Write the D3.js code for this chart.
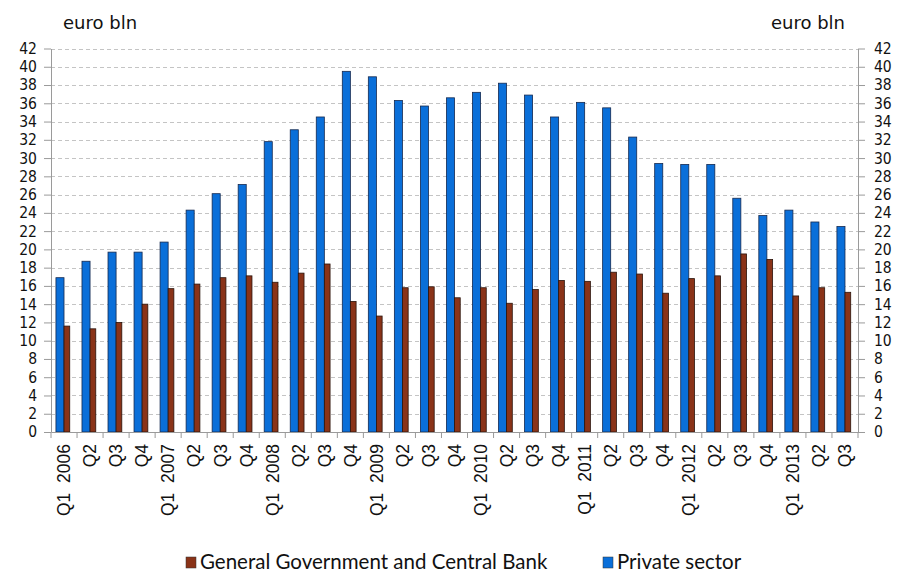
<!DOCTYPE html>
<html>
<head>
<meta charset="utf-8">
<script src="https://cdn.jsdelivr.net/npm/d3@7"></script>
<style>
  body { margin: 0; background: #fff; }
  svg { display: block; }
</style>
</head>
<body>
<svg id="chart" width="900" height="572"></svg>
<script>
// quarters on the x axis
let quarters = [
  'Q1 2006', 'Q2 2006', 'Q3 2006', 'Q4 2006',
  'Q1 2007', 'Q2 2007', 'Q3 2007', 'Q4 2007',
  'Q1 2008', 'Q2 2008', 'Q3 2008', 'Q4 2008',
  'Q1 2009', 'Q2 2009', 'Q3 2009', 'Q4 2009',
  'Q1 2010', 'Q2 2010', 'Q3 2010', 'Q4 2010',
  'Q1 2011', 'Q2 2011', 'Q3 2011', 'Q4 2011',
  'Q1 2012', 'Q2 2012', 'Q3 2012', 'Q4 2012',
  'Q1 2013', 'Q2 2013', 'Q3 2013'
]
let tickLabels = [
  'Q1  2006', 'Q2', 'Q3', 'Q4',
  'Q1  2007', 'Q2', 'Q3', 'Q4',
  'Q1  2008', 'Q2', 'Q3', 'Q4',
  'Q1  2009', 'Q2', 'Q3', 'Q4',
  'Q1  2010', 'Q2', 'Q3', 'Q4',
  'Q1  2011', 'Q2', 'Q3', 'Q4',
  'Q1  2012', 'Q2', 'Q3', 'Q4',
  'Q1  2013', 'Q2', 'Q3'
]

// euro bln
let privateSector = [
  16.9, 18.7, 19.7, 19.7,
  20.8, 24.3, 26.1, 27.1,
  31.8, 33.1, 34.5, 39.5,
  38.9, 36.3, 35.7, 36.6,
  37.2, 38.2, 36.9, 34.5,
  36.1, 35.5, 32.3, 29.4,
  29.3, 29.3, 25.6, 23.7,
  24.3, 23.0, 22.5
]
let govCentralBank = [
  11.6, 11.3, 12.0, 14.0,
  15.7, 16.2, 16.9, 17.1,
  16.4, 17.4, 18.4, 14.3,
  12.7, 15.8, 15.9, 14.7,
  15.8, 14.1, 15.6, 16.6,
  16.5, 17.5, 17.3, 15.2,
  16.8, 17.1, 19.5, 18.9,
  14.9, 15.8, 15.3
]

let yTicks = d3.range(0, 43, 2)

let plotLeft = 51, plotRight = 858, plotTop = 48.5, plotBottom = 432
let blue = '#0a6fd9'
let brown = '#8a3318'

let svg = d3.select('#chart')

let x = d3.scaleBand().domain(quarters).range([plotLeft, plotRight]).padding(0)
let y = d3.scaleLinear().domain([0, 42]).range([plotBottom, plotTop])
let bw = x.bandwidth()

// dashed grid lines
svg.append('g').selectAll('line')
  .data(yTicks.filter(d => d > 0))
  .enter()
  .append('line')
  .attr('x1', plotLeft)
  .attr('x2', plotRight)
  .attr('y1', d => Math.round(y(d)) + 0.5)
  .attr('y2', d => Math.round(y(d)) + 0.5)
  .attr('stroke', '#c4c4c4')
  .attr('stroke-dasharray', '4,3')

// bars
svg.append('g').selectAll('rect')
  .data(privateSector)
  .enter()
  .append('rect')
  .attr('x', (d, i) => x(quarters[i]) + bw * 0.19)
  .attr('width', bw * 0.31)
  .attr('y', d => y(d))
  .attr('height', d => plotBottom - y(d))
  .attr('fill', blue)
  .attr('stroke', '#15294f')
  .attr('stroke-width', 0.8)

svg.append('g').selectAll('rect')
  .data(govCentralBank)
  .enter()
  .append('rect')
  .attr('x', (d, i) => x(quarters[i]) + bw * 0.5)
  .attr('width', bw * 0.22)
  .attr('y', d => y(d))
  .attr('height', d => plotBottom - y(d))
  .attr('fill', brown)
  .attr('stroke', '#2a140c')
  .attr('stroke-width', 0.8)

// y axes (left and right)
let yFont = '"DejaVu Sans Condensed", "DejaVu Sans", sans-serif'

let yLeft = svg.append('g')
  .attr('transform', `translate(${plotLeft},0)`)
  .call(d3.axisLeft(y).tickValues(yTicks).tickSize(7).tickPadding(7).tickSizeOuter(0))
let yRight = svg.append('g')
  .attr('transform', `translate(${plotRight},0)`)
  .call(d3.axisRight(y).tickValues(yTicks).tickSize(7).tickPadding(9).tickSizeOuter(0))

;[yLeft, yRight].forEach(g => {
  g.select('.domain').attr('stroke', '#9a9a9a')
  g.selectAll('.tick line').attr('stroke', '#9a9a9a')
  g.selectAll('.tick text')
    .style('font-family', yFont)
    .style('font-stretch', 'condensed')
    .style('font-size', '15.5px')
    .attr('fill', '#111')
})

// x axis
let xAxis = svg.append('g')
  .attr('transform', `translate(0,${plotBottom})`)
  .call(d3.axisBottom(x).tickSize(0).tickFormat((d, i) => tickLabels[i]))
xAxis.select('.domain').attr('stroke', '#9a9a9a')
xAxis.selectAll('.tick text')
  .attr('transform', 'rotate(-90)')
  .attr('x', -12)
  .attr('y', 0)
  .attr('dy', '0.36em')
  .style('text-anchor', 'end')
  .style('font-family', '"Liberation Sans", Arial, sans-serif')
  .style('font-size', '17.5px')
  .style('white-space', 'pre')
  .attr('fill', '#111')

// small ticks between the quarters
svg.append('g').selectAll('line')
  .data(quarters.concat(['end']))
  .enter()
  .append('line')
  .attr('x1', (d, i) => plotLeft + i * bw)
  .attr('x2', (d, i) => plotLeft + i * bw)
  .attr('y1', plotBottom)
  .attr('y2', plotBottom + 6)
  .attr('stroke', '#9a9a9a')

// units
svg.append('text')
  .text('euro bln')
  .attr('x', 63)
  .attr('y', 29)
  .style('font-family', '"DejaVu Sans", sans-serif')
  .style('font-size', '18px')
  .attr('fill', '#111')
svg.append('text')
  .text('euro bln')
  .attr('x', 845)
  .attr('y', 29)
  .attr('text-anchor', 'end')
  .style('font-family', '"DejaVu Sans", sans-serif')
  .style('font-size', '18px')
  .attr('fill', '#111')

// legend
let legendItems = [
  {name: 'General Government and Central Bank', color: brown, x: 186},
  {name: 'Private sector', color: blue, x: 603}
]
let legend = svg.append('g').selectAll('g')
  .data(legendItems)
  .enter()
  .append('g')
  .attr('transform', d => `translate(${d.x},557)`)
legend.append('rect')
  .attr('width', 10)
  .attr('height', 11)
  .attr('fill', d => d.color)
  .attr('stroke', '#333')
  .attr('stroke-width', 0.5)
legend.append('text')
  .text(d => d.name)
  .attr('x', 14)
  .attr('y', 12)
  .style('font-family', 'Lato, sans-serif')
  .style('font-size', '20.5px')
  .attr('fill', '#111')
</script>
</body>
</html>
